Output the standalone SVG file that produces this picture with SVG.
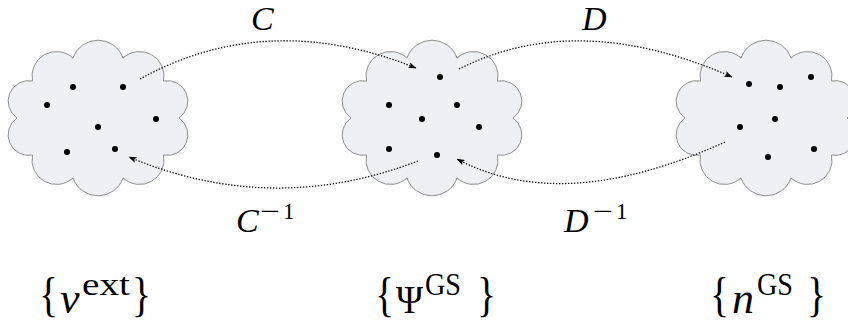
<svg xmlns="http://www.w3.org/2000/svg" width="848" height="322" viewBox="0 0 848 322">
<style>
.cloud{fill:#eff0f4;stroke:#8e8e8e;stroke-width:1}
.dot{fill:#000}
.arc{fill:none;stroke:#111;stroke-width:1.3;stroke-dasharray:1.4 1.6}
.it{font-family:"Liberation Serif","Times New Roman",serif;font-style:italic;fill:#000}
.rm{font-family:"Liberation Serif","Times New Roman",serif;font-style:normal;fill:#000}
</style>
<defs>
<path id="cloudShape" d="M81,0 A20.5,20.5 0 0 1 65.5,37 A24.4,24.4 0 0 1 25,59.9 A26.4,26.4 0 0 1 -25,59.9 A24.4,24.4 0 0 1 -65.5,37 A20.5,20.5 0 0 1 -81,0 A20.5,20.5 0 0 1 -65.5,-37 A24.4,24.4 0 0 1 -25,-59.9 A26.4,26.4 0 0 1 25,-59.9 A24.4,24.4 0 0 1 65.5,-37 A20.5,20.5 0 0 1 81,0 Z"/>
<marker id="ah" viewBox="0 0 8 6" refX="7.5" refY="3" markerWidth="8" markerHeight="6" markerUnits="userSpaceOnUse" orient="auto">
<path d="M0,0 L8,3 L0,6 L1.5,3 Z" fill="#000"/>
</marker>
</defs>

<g id="cloud-vext">
<use href="#cloudShape" class="cloud" transform="translate(98,118)"/>
<circle class="dot" cx="73" cy="87" r="3"/>
<circle class="dot" cx="123" cy="87" r="3"/>
<circle class="dot" cx="47" cy="105" r="3"/>
<circle class="dot" cx="156" cy="119" r="3"/>
<circle class="dot" cx="98" cy="127" r="3"/>
<circle class="dot" cx="67" cy="152" r="3"/>
<circle class="dot" cx="115" cy="149" r="3"/>
</g>

<g id="cloud-psi">
<use href="#cloudShape" class="cloud" transform="translate(432,118)"/>
<circle class="dot" cx="440" cy="77" r="3"/>
<circle class="dot" cx="389" cy="105" r="3"/>
<circle class="dot" cx="457" cy="105" r="3"/>
<circle class="dot" cx="422" cy="119" r="3"/>
<circle class="dot" cx="479" cy="127" r="3"/>
<circle class="dot" cx="389" cy="149" r="3"/>
<circle class="dot" cx="437" cy="155" r="3"/>
</g>

<g id="cloud-n">
<use href="#cloudShape" class="cloud" transform="translate(766,118)"/>
<circle class="dot" cx="749" cy="84" r="3"/>
<circle class="dot" cx="780" cy="87" r="3"/>
<circle class="dot" cx="811" cy="77" r="3"/>
<circle class="dot" cx="775" cy="119" r="3"/>
<circle class="dot" cx="740" cy="127" r="3"/>
<circle class="dot" cx="814" cy="149" r="3"/>
<circle class="dot" cx="768" cy="157" r="3"/>
</g>

<g id="connectors">
<path class="arc" d="M140,79 Q268,8.5 416,68" marker-end="url(#ah)"/>
<path class="arc" d="M459,69 Q578,9 732,77" marker-end="url(#ah)"/>
<path class="arc" d="M418,161 Q272,217 129,157" marker-end="url(#ah)"/>
<path class="arc" d="M725,142 Q563,215.5 457,159" marker-end="url(#ah)"/>
</g>

<g id="labels">
<text class="it" x="251" y="30" font-size="34">C</text>
<text class="it" x="582" y="30" font-size="34">D</text>
<text class="it" x="236" y="232" font-size="34">C<tspan class="rm" x="260" y="219" font-size="23" textLength="20" lengthAdjust="spacingAndGlyphs">−</tspan><tspan class="rm" x="283" y="219" font-size="23">1</tspan></text>
<text class="it" x="564" y="232" font-size="34">D<tspan class="rm" x="593" y="219" font-size="23" textLength="20" lengthAdjust="spacingAndGlyphs">−</tspan><tspan class="rm" x="616" y="219" font-size="23">1</tspan></text>
</g>

<g id="label-vext">
<text class="rm" x="39" y="311" font-size="48" textLength="19" lengthAdjust="spacingAndGlyphs">{</text>
<text class="it" x="60" y="313" font-size="44">v<tspan class="rm" x="82" y="295" font-size="31" textLength="48" lengthAdjust="spacingAndGlyphs">ext</tspan></text>
<text class="rm" x="132" y="311" font-size="48" textLength="19" lengthAdjust="spacingAndGlyphs">}</text>
</g>
<g id="label-psi">
<text class="rm" x="375" y="311" font-size="48" textLength="19" lengthAdjust="spacingAndGlyphs">{</text>
<text class="rm" y="313" font-size="40"><tspan x="396" textLength="27" lengthAdjust="spacingAndGlyphs">Ψ</tspan><tspan x="425" y="295" font-size="31" textLength="36" lengthAdjust="spacingAndGlyphs">GS</tspan></text>
<text class="rm" x="477" y="311" font-size="48" textLength="19" lengthAdjust="spacingAndGlyphs">}</text>
</g>
<g id="label-n">
<text class="rm" x="710" y="311" font-size="48" textLength="19" lengthAdjust="spacingAndGlyphs">{</text>
<text class="it" x="732" y="313" font-size="44">n<tspan class="rm" x="757" y="295" font-size="31" textLength="36" lengthAdjust="spacingAndGlyphs">GS</tspan></text>
<text class="rm" x="807" y="311" font-size="48" textLength="19" lengthAdjust="spacingAndGlyphs">}</text>
</g>
</svg>
